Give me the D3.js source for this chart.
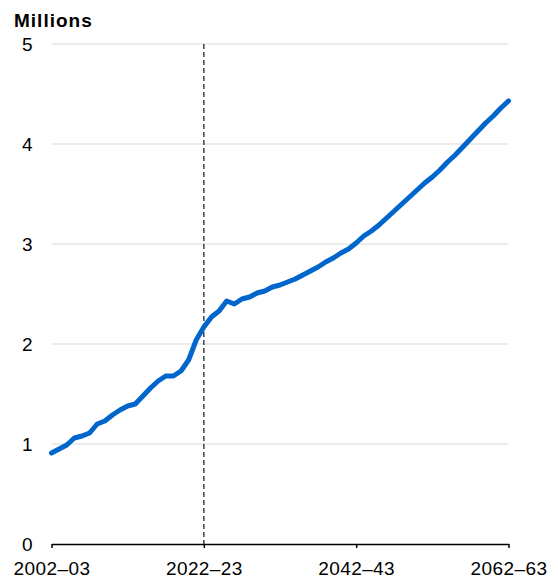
<!DOCTYPE html>
<html>
<head>
<meta charset="utf-8">
<script src="https://cdn.jsdelivr.net/npm/d3@7"></script>
<style>
  body { margin: 0; background: #fff; }
  text { font-family: "Liberation Sans", Arial, sans-serif; }
</style>
</head>
<body>
<div id="chart"></div>
<script>
// annual values, 2002-03 .. 2062-63 (millions)
var startYear = 2002;
var values = [
  0.91, 0.95, 0.99, 1.06, 1.08, 1.11, 1.20, 1.23, 1.29, 1.34,
  1.38, 1.40, 1.48, 1.56, 1.63, 1.68, 1.68, 1.73, 1.84, 2.04,
  2.17, 2.27, 2.33, 2.43, 2.40, 2.45, 2.47, 2.51, 2.53, 2.57,
  2.59, 2.62, 2.65, 2.69, 2.73, 2.77, 2.82, 2.86, 2.91, 2.95,
  3.01, 3.08, 3.13, 3.19, 3.26, 3.33, 3.40, 3.47, 3.54, 3.61,
  3.67, 3.74, 3.82, 3.89, 3.97, 4.05, 4.13, 4.21, 4.28, 4.36,
  4.43
];
var xTicks = [2002, 2022, 2042, 2062];
var yTicks = [1, 2, 3, 4, 5];
var markerYear = 2022;

function fy(y) { return y + '\u2013' + String((y + 1) % 100).padStart(2, '0'); }

var data = values.map(function(v, i) { return {year: startYear + i, value: v}; });

var margin = {top: 44, right: 49.5, bottom: 35, left: 51.5},
    width = 558 - margin.left - margin.right,
    height = 579 - margin.top - margin.bottom;

var x = d3.scaleLinear().domain([2002, 2062]).range([0, width]);
var y = d3.scaleLinear().domain([0, 5]).range([height, 0]);

var svg = d3.select('#chart').append('svg')
    .attr('width', 558)
    .attr('height', 579);

svg.append('text')
    .attr('x', 14)
    .attr('y', 27)
    .attr('font-size', '19px')
    .attr('font-weight', 'bold')
    .attr('letter-spacing', '1px')
    .text('Millions');

var g = svg.append('g')
    .attr('transform', 'translate(' + margin.left + ',' + margin.top + ')');

// gridlines
g.selectAll('.grid')
    .data(yTicks)
    .enter().append('line')
    .attr('x1', 0).attr('x2', width)
    .attr('y1', function(d) { return y(d); })
    .attr('y2', function(d) { return y(d); })
    .attr('stroke', '#d9d9d9')
    .attr('stroke-width', 1);

// y labels
g.selectAll('.ylab')
    .data([0].concat(yTicks))
    .enter().append('text')
    .attr('x', -19)
    .attr('y', function(d) { return y(d); })
    .attr('dy', '0.35em')
    .attr('text-anchor', 'end')
    .attr('font-size', '19px')
    .text(function(d) { return d; });

// x axis
var xAxis = d3.axisBottom(x)
    .tickValues(xTicks)
    .tickSize(4)
    .tickSizeOuter(0)
    .tickFormat(fy);

var ax = g.append('g')
    .attr('transform', 'translate(0,' + height + ')')
    .call(xAxis);
ax.select('.domain').attr('stroke', '#000').attr('stroke-width', 1.5);
ax.selectAll('.tick line').attr('stroke', '#000').attr('stroke-width', 1.5);
ax.selectAll('.tick text')
    .attr('font-size', '19px')
    .attr('font-family', '"Liberation Sans", Arial, sans-serif')
    .attr('letter-spacing', '0.4px')
    .attr('fill', '#000')
    .attr('y', 17.5);

// dashed marker
g.append('line')
    .attr('x1', x(markerYear)).attr('x2', x(markerYear))
    .attr('y1', 0).attr('y2', height)
    .attr('stroke', '#333')
    .attr('stroke-width', 1.4)
    .attr('stroke-dasharray', '5,3');

var line = d3.line()
    .x(function(d) { return x(d.year); })
    .y(function(d) { return y(d.value); });

g.append('path')
    .datum(data)
    .attr('fill', 'none')
    .attr('stroke', '#0066cc')
    .attr('stroke-width', 5)
    .attr('stroke-linejoin', 'round')
    .attr('stroke-linecap', 'round')
    .attr('d', line);
</script>
</body>
</html>
